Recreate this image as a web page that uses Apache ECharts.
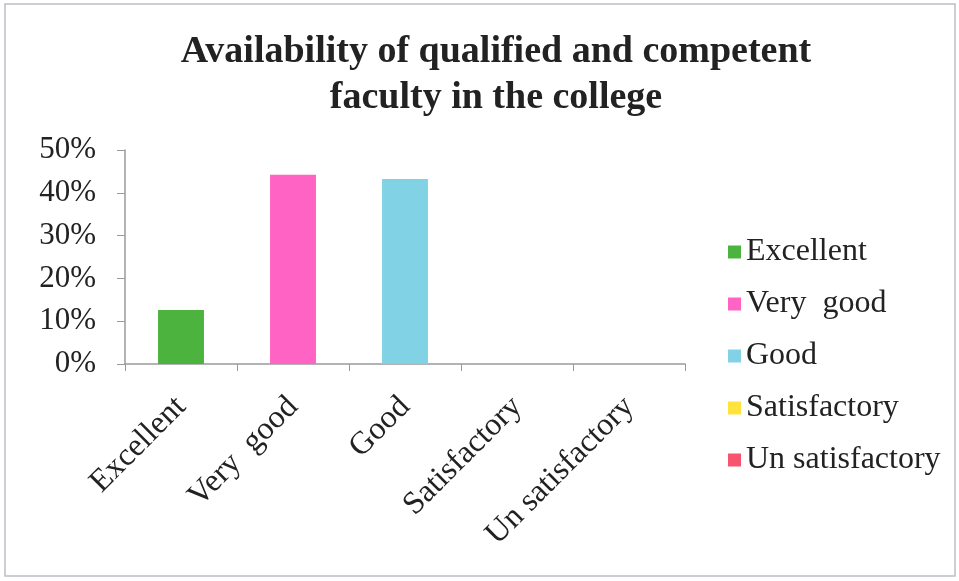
<!DOCTYPE html>
<html>
<head>
<meta charset="utf-8">
<script src="https://cdn.jsdelivr.net/npm/echarts@6/dist/echarts.min.js"></script>
<style>
html,body{margin:0;padding:0;background:#fff;}
#c{width:959px;height:581px;}
</style>
</head>
<body>
<div id="c"></div>
<script>
const categories = ['Excellent', 'Very  good', 'Good', 'Satisfactory', 'Un satisfactory'];
const axisLabels = ['Excellent', 'Very  good', 'Good', 'Satisfactory', 'Un satisfactory'];
const values = [12.6, 44.2, 43.2, 0, 0];
const colors = ['#4CB33E', '#FF63C3', '#80D2E4', '#FFE23C', '#F8536F'];
const yTicks = [0, 10, 20, 30, 40, 50];

const chart = echarts.init(document.getElementById('c'), null, {renderer: 'canvas'});
const font = '"Liberation Serif", "Times New Roman", serif';

const series = categories.map((name, i) => ({
  name: name,
  type: 'bar',
  stack: 'all',
  barWidth: '41%',
  itemStyle: {color: colors[i]},
  data: values.map((v, j) => (j === i ? v : '-'))
}));

chart.setOption({
  backgroundColor: '#fff',
  animation: false,
  title: {
    text: 'Availability of qualified and competent\nfaculty in the college',
    left: 491,
    textAlign: 'center',
    top: 24,
    textStyle: {fontFamily: font, fontWeight: 'bold', fontSize: 38, color: '#222', lineHeight: 46}
  },
  legend: {
    orient: 'vertical',
    left: 723,
    top: 231,
    itemWidth: 13,
    itemHeight: 13,
    itemGap: 20,
    icon: 'rect',
    textStyle: {fontFamily: font, fontSize: 32, color: '#222', padding: [0, 0, 0, 0]},
    data: categories
  },
  grid: {left: 125, right: 274, top: 150, bottom: 217, containLabel: false},
  xAxis: {
    type: 'category',
    data: axisLabels,
    axisLine: {lineStyle: {color: '#9a9a9a', width: 1.5}},
    axisTick: {show: true, length: 7, lineStyle: {color: '#9a9a9a'}},
    axisLabel: {rotate: 45, fontFamily: font, fontSize: 32, color: '#222', margin: 38, interval: 0}
  },
  yAxis: {
    type: 'value',
    min: yTicks[0],
    max: yTicks[yTicks.length - 1],
    interval: 10,
    splitLine: {show: false},
    axisLine: {show: true, lineStyle: {color: '#9a9a9a', width: 1.5}},
    axisTick: {show: true, length: 8, lineStyle: {color: '#9a9a9a'}},
    axisLabel: {formatter: '{value}%', fontFamily: font, fontSize: 31, color: '#222', margin: 29}
  },
  graphic: [{
    type: 'rect',
    shape: {x: 5, y: 4, width: 950, height: 572},
    style: {fill: 'none', stroke: '#bdbdc6', lineWidth: 1.5},
    silent: true
  }],
  series: series
});
</script>
</body>
</html>
